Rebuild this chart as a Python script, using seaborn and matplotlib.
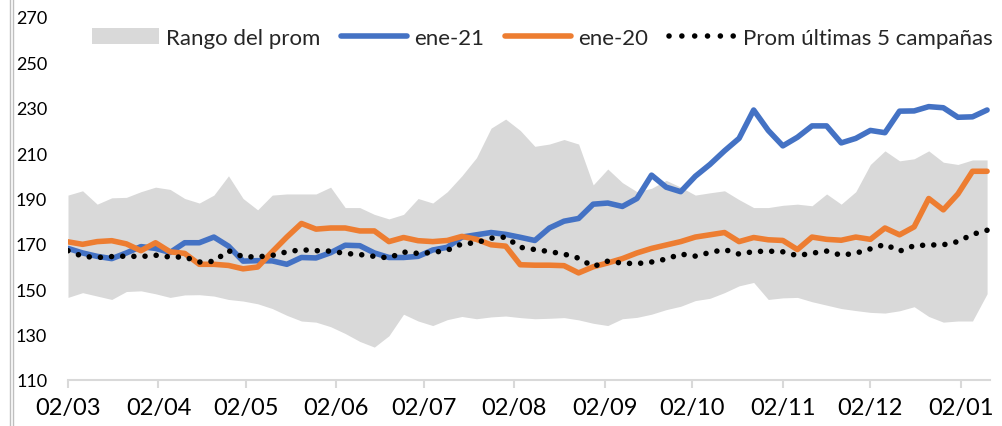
import numpy as np
import pandas as pd
import matplotlib
matplotlib.use("Agg")
import matplotlib.pyplot as plt
import matplotlib.dates as mdates
from matplotlib.lines import Line2D
from matplotlib.patches import Patch
import seaborn as sns

# Fechas: cada 5 dias desde el 02/03
fechas = pd.date_range("2020-03-02", periods=64, freq="5D")

# Banda del promedio (maximo y minimo)
rango_max = [191.5, 193.4, 187.5, 190.3, 190.5, 193.0, 195.0, 194.0, 190.0, 188.0,
             191.5, 200.0, 190.0, 185.0, 191.5, 192.0, 192.0, 192.0, 195.0, 186.0,
             186.0, 183.0, 181.0, 183.0, 190.0, 188.0, 193.0, 200.0, 208.0, 221.0,
             225.0, 220.0, 213.0, 214.0, 216.0, 214.0, 196.0, 203.0, 197.0, 193.0,
             194.5, 198.0, 195.0, 191.5, 192.5, 193.4, 189.5, 186.0, 186.0, 187.0,
             187.5, 186.8, 192.0, 187.5, 193.0, 205.0, 211.0, 206.6, 207.5, 211.0,
             206.0, 205.0, 207.0, 207.0]
rango_min = [146.4, 148.5, 147.0, 145.5, 149.0, 149.3, 148.0, 146.4, 147.5, 147.6,
             147.0, 145.5, 144.8, 143.6, 141.5, 138.5, 136.0, 135.5, 133.5, 130.5,
             127.0, 124.5, 129.5, 139.0, 136.0, 134.0, 136.6, 138.0, 137.0, 137.8,
             138.2, 137.5, 137.0, 137.2, 137.5, 136.5, 135.0, 134.0, 137.0, 137.6,
             139.0, 141.0, 142.5, 145.0, 146.0, 148.5, 151.5, 153.0, 145.5, 146.2,
             146.4, 144.5, 143.0, 141.5, 140.6, 139.8, 139.5, 140.5, 142.3, 138.0,
             135.5, 136.0, 136.0, 148.0]

ene21 = [168.0, 166.0, 164.5, 163.5, 166.0, 168.8, 168.0, 166.2, 170.5, 170.5,
         173.0, 169.0, 162.4, 162.6, 162.5, 161.0, 164.0, 163.8, 166.1, 169.4,
         169.2, 166.0, 164.0, 164.0, 164.5, 167.3, 168.5, 173.0, 174.0, 175.0,
         174.2, 172.9, 171.5, 177.0, 180.0, 181.2, 187.5, 188.0, 186.5, 190.0,
         200.3, 195.0, 193.0, 199.8, 205.0, 211.0, 216.5, 229.0, 220.0, 213.2,
         217.0, 222.0, 222.0, 214.5, 216.5, 220.0, 219.0, 228.5, 228.6, 230.5,
         230.0, 225.8, 226.0, 229.0]

ene20 = [170.9, 169.8, 171.0, 171.4, 170.0, 167.0, 170.5, 166.5, 165.8, 161.0,
         161.0, 160.5, 159.0, 159.8, 166.5, 173.0, 179.0, 176.5, 177.0, 177.0,
         175.7, 175.7, 171.0, 172.8, 171.4, 171.0, 171.5, 173.3, 172.0, 169.6,
         169.0, 160.8, 160.6, 160.6, 160.4, 157.2, 159.9, 161.6, 163.5, 166.0,
         168.0, 169.5, 171.0, 173.0, 174.0, 175.0, 171.0, 172.8, 171.8, 171.5,
         167.5, 173.0, 172.0, 171.6, 173.0, 172.0, 177.0, 174.0, 177.5, 190.0,
         185.0, 192.0, 202.0, 202.0]

prom5 = [167.0, 164.5, 164.0, 164.4, 164.6, 164.4, 165.0, 164.2, 164.2, 162.0,
         162.3, 167.0, 164.3, 164.3, 164.9, 166.5, 167.4, 167.0, 166.8, 165.8,
         165.3, 164.5, 163.8, 166.4, 165.8, 166.2, 167.2, 170.0, 170.5, 172.5,
         173.0, 168.5, 167.5, 166.6, 165.5, 163.7, 160.0, 162.4, 161.5, 161.3,
         162.0, 163.3, 165.5, 164.6, 166.2, 167.5, 165.5, 166.6, 166.8, 166.5,
         164.8, 165.9, 166.8, 165.0, 165.9, 167.8, 169.8, 166.8, 169.2, 169.5,
         169.6, 171.0, 174.2, 176.0]

# marcas del eje x: el dia 2 de cada mes
ticks_x = pd.date_range("2020-03-01", "2021-01-01", freq="MS") + pd.Timedelta(days=1)
ticks_y = [110, 130, 150, 170, 190, 210, 230, 250, 270]

df = pd.DataFrame({"fecha": fechas, "max": rango_max, "min": rango_min,
                   "ene-21": ene21, "ene-20": ene20, "prom": prom5})

sns.set_theme(style="white")
plt.rcParams["font.family"] = ["Lato", "DejaVu Sans"]

fig = plt.figure(figsize=(10.02, 4.27), dpi=100)
ax = fig.add_axes([68 / 1002, 1 - 381 / 427, 922 / 1002, 363 / 427])

gris = "#D9D9D9"
azul = "#4472C4"
naranja = "#ED7D31"

ax.fill_between(df["fecha"], df["min"], df["max"], color=gris, lw=0, zorder=1)
sns.lineplot(data=df, x="fecha", y="ene-21", ax=ax, color=azul, lw=4,
             solid_joinstyle="round", zorder=3)
sns.lineplot(data=df, x="fecha", y="ene-20", ax=ax, color=naranja, lw=4,
             solid_joinstyle="round", zorder=4)
sns.lineplot(data=df, x="fecha", y="prom", ax=ax, color="black", lw=4,
             linestyle=(0, (0.01, 2.0)), dash_capstyle="round", zorder=5)

ax.set_xlim(fechas[0], fechas[0] + pd.Timedelta(days=316))
ax.set_ylim(110, 270)
ax.set_yticks(ticks_y)
ax.set_xticks(ticks_x)
ax.xaxis.set_major_formatter(mdates.DateFormatter("%d/%m"))
ax.set_xlabel("")
ax.set_ylabel("")

for s in ["top", "right", "left"]:
    ax.spines[s].set_visible(False)
ax.spines["bottom"].set_color(gris)
ax.spines["bottom"].set_linewidth(1.5)
ax.tick_params(axis="x", bottom=True, length=6, width=1.5, color=gris,
               labelsize=17, pad=6, labelcolor="black")
ax.tick_params(axis="y", left=False, labelsize=13, pad=9, labelcolor="black")

handles = [Patch(facecolor=gris, edgecolor="none"),
           Line2D([], [], color=azul, lw=4, solid_capstyle="round"),
           Line2D([], [], color=naranja, lw=4, solid_capstyle="round"),
           Line2D([], [], color="black", lw=4, linestyle=(0, (0.01, 2.3)),
                  dash_capstyle="round")]
labels = ["Rango del prom", "ene-21", "ene-20", "Prom últimas 5 campañas"]
ax.legend(handles, labels, ncol=4, frameon=False, fontsize=16,
          loc="center left", bbox_to_anchor=(92 / 1002, 1 - 39 / 427),
          bbox_transform=fig.transFigure, borderpad=0, borderaxespad=0,
          handlelength=3.0, handletextpad=0.31, columnspacing=0.93)

# borde izquierdo del recuadro
fig.add_artist(Line2D([10 / 1002, 10 / 1002], [0, 1], transform=fig.transFigure,
                      color="#BFBFBF", lw=1))
fig.add_artist(Line2D([12.5 / 1002, 12.5 / 1002], [0, 1], transform=fig.transFigure,
                      color="#BFBFBF", lw=1))

fig.savefig("out.png", dpi=100)
